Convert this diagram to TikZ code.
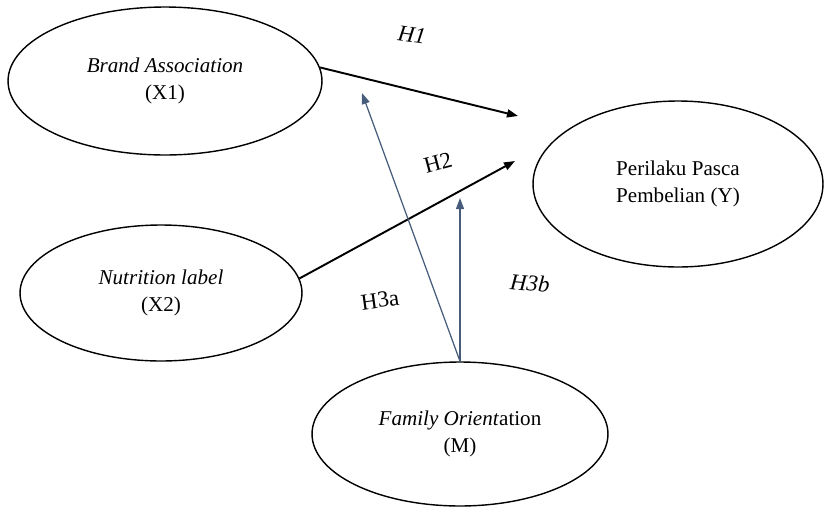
\documentclass[tikz,border=0pt]{standalone}
\usepackage{fontspec}
\setmainfont{Liberation Serif}
\usetikzlibrary{shapes.geometric,arrows.meta}
\definecolor{modline}{RGB}{70,92,122}
\tikzset{
  construct/.style={draw, ellipse, line width=0.8pt, inner sep=0pt, align=center, font=\fontsize{12}{15}\selectfont},
  patharrow/.style={line width=1.1pt, -{Triangle[length=2.2mm,width=1.6mm]}},
  modarrow/.style={draw=modline, line width=0.7pt, -{Triangle[length=2.2mm,width=1.6mm]}},
  hyp/.style={font=\fontsize{13}{15}\selectfont}
}

\begin{document}
\begin{tikzpicture}[x=0.02cm, y=-0.02cm]
\useasboundingbox (0,0) rectangle (825,508);

\node[construct, minimum width=6.28cm, minimum height=2.96cm] (X1) at (165,81) {\textit{Brand Association}\\(X1)};
\node[construct, minimum width=5.64cm, minimum height=2.72cm] (X2) at (161,293) {\textit{Nutrition label}\\(X2)};
\node[construct, minimum width=5.8cm, minimum height=3.32cm] (Y) at (678,184) {Perilaku Pasca\\Pembelian (Y)};
\node[construct, minimum width=5.92cm, minimum height=2.88cm] (M) at (460,434) {\textit{Family Orient}ation\\(M)};

% free ends of the arrows
\coordinate (h1tip) at (518,116);
\coordinate (h2tip) at (515,161);
\coordinate (h3atip) at (362,93);
\coordinate (h3btip) at (460,198);

\draw[patharrow] (X1.5) -- (h1tip);
\draw[patharrow] (X2.6) -- (h2tip);
\draw[modarrow] (M.north) -- (h3atip);
\draw[modarrow] (M.north) -- (h3btip);

\node[hyp, rotate=-8] (H1) at (412,35) {\textit{H1}};
\node[hyp, rotate=15] (H2) at (438,163) {H2};
\node[hyp, rotate=8] (H3a) at (380,300) {H3a};
\node[hyp, rotate=-5] (H3b) at (530,283) {\textit{H3b}};
\end{tikzpicture}
\end{document}
